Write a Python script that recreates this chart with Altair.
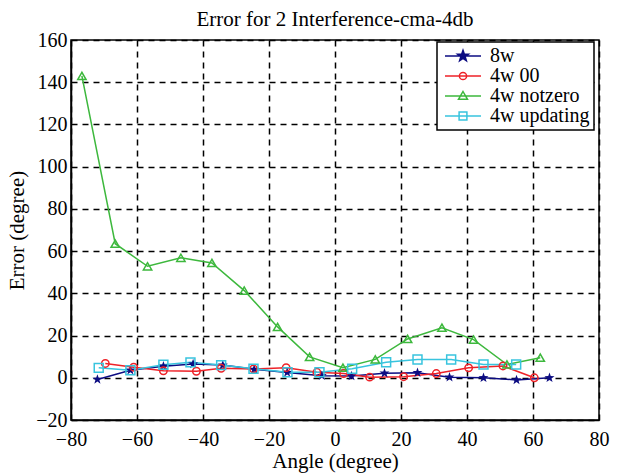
import altair as alt
import pandas as pd

series_names = ["8w", "4w 00", "4w notzero", "4w updating"]
colors = ["#0c0c82", "#ee2228", "#3db83d", "#38c4de"]

angles_8w = [-72, -62, -52, -43, -34, -24.5, -14.5, -4, 5, 15, 25, 34.7, 45, 55, 65]
err_8w = [-0.8, 3.6, 5.5, 6.5, 6, 4, 2.5, 1, 0.8, 2.2, 2.4, 0.3, 0, -1, 0]
angles_00 = [-69.6, -61, -52, -42, -34.5, -24.7, -14.8, -5.5, 2.6, 10.5, 20.8, 30.7, 40.5, 50.9, 60.4]
err_00 = [6.8, 5, 3.3, 3.1, 4.5, 4.2, 4.8, 2.6, 2, 0.3, 0.5, 2, 4.7, 5.6, 0]
angles_nz = [-76.7, -66.6, -56.8, -46.7, -37.3, -27.5, -17.4, -7.7, 2.4, 12.2, 22, 32.4, 42, 52.1, 62.2]
err_nz = [143, 63.5, 52.8, 56.8, 54.4, 41.3, 24.1, 9.9, 4.8, 8.7, 18.4, 23.7, 18.1, 6.3, 9.5]
angles_up = [-71.6, -62, -52, -43.8, -34.5, -24.7, -14.4, -4.7, 5.2, 15.5, 25, 35.2, 45, 54.9]
err_up = [4.7, 3.6, 6.2, 7.3, 6, 4.3, 2.6, 2.6, 4.3, 7.4, 8.7, 8.7, 6.3, 6.3]

x_ticks = [-80, -60, -40, -20, 0, 20, 40, 60, 80]
y_ticks = [-20, 0, 20, 40, 60, 80, 100, 120, 140, 160]

rows = []
for name, xs, ys in [("8w", angles_8w, err_8w), ("4w 00", angles_00, err_00),
                     ("4w notzero", angles_nz, err_nz), ("4w updating", angles_up, err_up)]:
    for a, e in zip(xs, ys):
        rows.append({"series": name, "angle": a, "error": e})
df = pd.DataFrame(rows)

FONT = "Liberation Serif"

star = ("M0,-1L0.235,-0.324L0.951,-0.309L0.38,0.124L0.588,0.809L0,0.4"
        "L-0.588,0.809L-0.38,0.124L-0.951,-0.309L-0.235,-0.324Z")

# legend symbols: short line with marker centred on it
leg_star = ("M-1,0H5M2,-0.95L2.224,-0.307L2.904,-0.294L2.361,0.117L2.558,0.769L2,0.38"
            "L1.442,0.769L1.639,0.117L1.096,-0.294L1.776,-0.307Z")
leg_circle = "M-1,0H5M2.6,0A0.6,0.6,0,1,1,1.4,0A0.6,0.6,0,1,1,2.6,0Z"
leg_tri = "M-1,0H5M2,-0.75L2.75,0.55H1.25Z"
leg_square = "M-1,0H5M1.35,-0.65H2.65V0.65H1.35Z"

xscale = alt.Scale(domain=[-80, 80], nice=False, zero=False)
yscale = alt.Scale(domain=[-20, 160], nice=False, zero=False)
cscale = alt.Scale(domain=series_names, range=colors)

xenc = alt.X("angle:Q", scale=xscale,
             axis=alt.Axis(values=x_ticks, title="Angle (degree)", format="d",
                           labelFont=FONT, labelFlush=False))
yenc = alt.Y("error:Q", scale=yscale,
             axis=alt.Axis(values=y_ticks, title="Error (degree)", format="d",
                           labelFont=FONT, labelFlush=False))

base = alt.Chart(df)

layers = []
shapes = {"8w": (star, True, 110), "4w 00": ("circle", False, 55),
          "4w notzero": ("triangle-up", False, 70), "4w updating": ("square", False, 80)}
for i, name in enumerate(series_names):
    sub = base.transform_filter(alt.datum.series == name)
    layers.append(
        sub.mark_line(strokeWidth=1.5, color=colors[i]).encode(x=xenc, y=yenc)
    )
for i, name in enumerate(series_names):
    shp, filled, sz = shapes[name]
    sub = base.transform_filter(alt.datum.series == name)
    layers.append(
        sub.mark_point(shape=shp, filled=filled, size=sz, strokeWidth=1.5,
                       opacity=1, color=colors[i]).encode(x="angle:Q", y="error:Q")
    )

legend_layer = base.mark_point(
    filled=False, strokeWidth=1.5, opacity=0
).encode(
    x="angle:Q", y="error:Q",
    color=alt.Color("series:N", scale=cscale, title=None,
                    legend=alt.Legend(orient="none", legendX=366, legendY=2,
                                      symbolOpacity=1)),
    shape=alt.Shape("series:N",
                    scale=alt.Scale(domain=series_names,
                                    range=[leg_star, leg_circle, leg_tri, leg_square]),
                    title=None),
    fill=alt.Fill("series:N",
                  scale=alt.Scale(domain=series_names,
                                  range=[colors[0], "transparent", "transparent", "transparent"]),
                  title=None),
)
layers.append(legend_layer)

chart = alt.layer(*layers).properties(
    width=528, height=380,
    background="white",
    title=alt.Title("Error for 2 Interference-cma-4db", font=FONT, fontSize=21,
                    fontWeight="normal", color="black", offset=0),
    autosize=alt.AutoSizeParams(type="none"),
    padding={"left": 71, "top": 40, "right": 22, "bottom": 55},
).configure_view(
    stroke="black", strokeWidth=1.5, fill="white"
).configure_axis(
    grid=True, gridColor="black", gridDash=[6, 5], gridWidth=1.5, gridOpacity=1,
    domain=True, domainColor="black", domainWidth=1.5,
    ticks=False,
    labelFont=FONT, labelFontSize=20, labelColor="black",
    titleFont=FONT, titleFontSize=21, titleFontWeight="normal", titleColor="black",
).configure_axisX(
    labelPadding=9, titlePadding=1,
).configure_axisY(
    labelPadding=4, titlePadding=8,
).configure_legend(
    padding=4, strokeColor="black", fillColor="white", strokeWidth=1.5,
    symbolSize=144, symbolStrokeWidth=1.5, labelOffset=29,
    labelFont=FONT, labelFontSize=20, labelColor="black", rowPadding=0,
    cornerRadius=0,
)

chart.save("out.html", embed_options={"renderer": "svg", "actions": False})
